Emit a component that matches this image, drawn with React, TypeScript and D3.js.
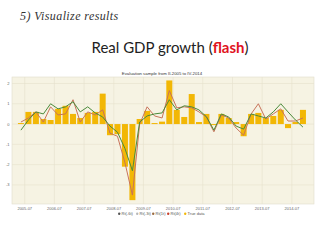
import React from 'react';
import * as d3 from 'd3';

const quarters = [
  '2005Q2','2005Q3','2005Q4','2006Q1','2006Q2','2006Q3','2006Q4','2007Q1','2007Q2','2007Q3',
  '2007Q4','2008Q1','2008Q2','2008Q3','2008Q4','2009Q1','2009Q2','2009Q3','2009Q4','2010Q1',
  '2010Q2','2010Q3','2010Q4','2011Q1','2011Q2','2011Q3','2011Q4','2012Q1','2012Q2','2012Q3',
  '2012Q4','2013Q1','2013Q2','2013Q3','2013Q4','2014Q1','2014Q2','2014Q3','2014Q4'];

const trueData = [
  0.05, 0.6, 0.6, 0.25, 0.2, 0.75, 0.9, 0.5, 0.3, 0.55,
  0.6, 1.5, -0.55, -0.5, -2.1, -3.75, 0.25, 0.65, 0.05, 0.12,
  2.15, 0.7, 0.35, 1.48, 0.1, 0.5, -0.05, 0.5, 0.3, 0.1,
  -0.6, 0.5, 0.55, 0.3, 0.4, 0.7, -0.2, 0.1, 0.7];

const seriesRed = [
  0.1, 0.3, 0.6, 0.1, 0.85, 0.45, 0.5, 1.2, 0.1, 0.6,
  0.45, 0.7, -0.45, -0.6, -1.9, -3.5, 0.0, 0.85, 0.4, 0.3,
  1.65, 0.8, 0.85, 0.8, 0.6, 0.35, -0.38, 0.45, 0.3, -0.2,
  -0.55, 0.5, 1.0, 0.25, 0.5, 0.75, 0.15, 0.15, 0.3];

const seriesGreen = [
  -0.3, 0.2, 0.6, 0.5, 1.0, 0.75, 0.85, 1.1, 0.6, 0.85,
  0.55, 0.35, -0.1, -0.4, -1.2, -2.3, 0.1, 0.4, 0.5, 0.55,
  1.2, 0.7, 0.9, 0.85, 0.7, 0.36, -0.3, 0.5, 0.35, -0.1,
  -0.25, 0.5, 0.4, 0.3, 0.6, 1.0, 0.6, 0.2, -0.15];

const yTicks = [2, 1, 0, -1, -2, -3];
const xTickLabels = ['2005-07','2006-07','2007-07','2008-07','2009-07','2010-07','2011-07','2012-07','2013-07','2014-07'];
const legendItems = [
  { label: 'Rt(-6t)', color: '#555555' },
  { label: 'Rt(-3t)', color: '#b8b8b8' },
  { label: 'Rt(1t)', color: '#9a6a40' },
  { label: 'Rt(4t)', color: '#c8402a' },
  { label: 'True data', color: '#f2b705' },
];

const qDate = (q: string) => {
  const y = +q.slice(0, 4);
  const n = +q.slice(5);
  return new Date(y, (n - 1) * 3 + 1, 15);
};
const tickDate = (s: string) => new Date(+s.slice(0, 4), +s.slice(5) - 1, 1);

export default function App() {
  const L = 12, R = 314, T = 77, B = 204;
  const x = d3.scaleTime().domain([new Date(2005, 0, 25), new Date(2015, 2, 31)]).range([L, R]);
  const y = d3.scaleLinear().domain([-3.94, 2.32]).range([B, T]);
  const bw = 6;
  const lineGen = (vals: number[]) =>
    d3.line<number>().x((_, i) => x(qDate(quarters[i]))).y((v) => y(v))(vals) || '';

  const font = 'Liberation Sans, Arial, sans-serif';
  return (
    <svg width={320} height={240} style={{ position: 'absolute', left: 0, top: 0, background: '#fff' }}>
      <text x={20} y={20} fontFamily="Liberation Serif, serif" fontStyle="italic" fontSize={12} letterSpacing={0.4} fill="#333">5) Visualize  results</text>
      <text x={170} y={53} textAnchor="middle" fontFamily="Lato, Open Sans, sans-serif" fontSize={15} fill="#222">
        Real GDP growth (<tspan fill="#e0141e" fontWeight="bold">flash</tspan>)
      </text>
      <text x={162} y={75} textAnchor="middle" fontFamily={font} fontSize={4.3} fill="#333">Evaluation sample from II-2005 to IV-2014</text>
      <rect x={L} y={T} width={R - L} height={B - T} fill="#f6f3e3" stroke="#e2decb" strokeWidth={0.6} />
      {yTicks.map((t) => (
        <g key={t}>
          <line x1={L} x2={R} y1={y(t)} y2={y(t)} stroke="#e6e1cc" strokeWidth={0.6} />
          <text x={9.5} y={y(t) + 1.5} textAnchor="end" fontFamily={font} fontSize={4} fill="#666">{t}</text>
        </g>
      ))}
      {xTickLabels.map((s) => (
        <g key={s}>
          <line x1={x(tickDate(s))} x2={x(tickDate(s))} y1={T} y2={B} stroke="#e6e1cc" strokeWidth={0.6} />
          <text x={x(tickDate(s))} y={209.5} textAnchor="middle" fontFamily={font} fontSize={4} fill="#666">{s}</text>
        </g>
      ))}
      {trueData.map((v, i) => {
        const cx = x(qDate(quarters[i]));
        return (
          <rect key={i} x={cx - bw / 2} y={Math.min(y(v), y(0))} width={bw} height={Math.abs(y(v) - y(0))} fill="#f2b705" />
        );
      })}
      <path d={lineGen(seriesRed)} fill="none" stroke="#c8735a" strokeWidth={1} />
      <path d={lineGen(seriesGreen)} fill="none" stroke="#4b8b3b" strokeWidth={1} />
      <g transform="translate(118,215)">
        {legendItems.map((it, i) => {
          const ox = [0, 18, 34, 49, 66][i];
          return (
            <g key={it.label} transform={`translate(${ox},0)`}>
              <circle cx={1.2} cy={-1.3} r={1.2} fill={it.color} />
              <text x={3.5} y={0} fontFamily={font} fontSize={4} fill="#555">{it.label}</text>
            </g>
          );
        })}
      </g>
    </svg>
  );
}
